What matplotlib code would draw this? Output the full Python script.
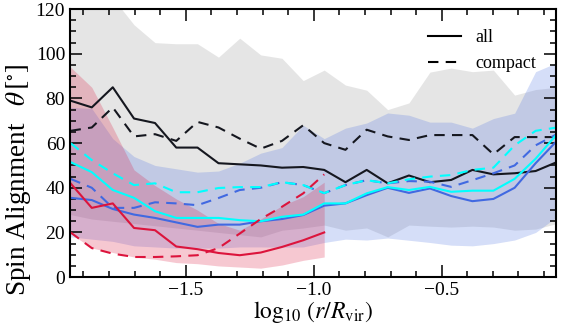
import matplotlib
matplotlib.use("Agg")
import matplotlib.pyplot as plt
from matplotlib.ticker import MultipleLocator
from matplotlib.lines import Line2D

plt.rcParams['font.family'] = 'serif'
plt.rcParams['font.serif'] = ['Liberation Serif', 'DejaVu Serif']
plt.rcParams['mathtext.fontset'] = 'stix'

# bin centres, log10(r/Rvir)
x = [-1.950, -1.867, -1.785, -1.702, -1.620, -1.537, -1.454, -1.372,
     -1.289, -1.207, -1.124, -1.041, -0.959, -0.876, -0.793, -0.711,
     -0.628, -0.546, -0.463, -0.380, -0.298, -0.215, -0.133, -0.050]

# "all" (dark) sample
black_all = [79, 76, 85, 71, 69, 58, 58, 51, 50.5, 50, 49, 49.3,
             48, 42.5, 48, 42, 45.5, 42.5, 43.5, 48, 46, 46.5, 47.5, 51.5]
black_compact = [65.5, 67, 76, 63, 64, 61, 69.5, 67, 62, 57.5, 61, 68,
                 60, 57, 66, 63, 61.4, 63.6, 63.6, 63.6, 55, 62.7, 62.7, 62.7]
gray_lo = [28, 26, 25, 24, 23, 22, 21, 20, 19, 18, 21, 22,
           23.3, 21, 22, 18, 23.3, 22.8, 22.4, 22.8, 22.4, 21, 21.5, 24]
gray_hi = [140, 130, 125, 113, 105, 104.5, 104.5, 98.5, 107, 99.5, 98, 88,
           92.7, 86, 83.7, 75, 78, 91.8, 93.6, 92, 92.7, 81.5, 84, 85]

# blue sample
blue_all = [35.5, 34.5, 30.5, 28, 26.5, 24.5, 22.5, 23.5, 23.5, 25, 26, 27.8,
            32, 33, 36.7, 40, 37.7, 39.7, 36.3, 34, 35, 40, 51, 61]
blue_compact = [44, 40, 31, 31, 33.5, 33, 32.2, 35.4, 39, 40, 42.5, 41.2,
                37.6, 41.2, 43.4, 42, 43, 42.7, 40.4, 43.4, 46.5, 50, 59, 64]
blue_lo = [18, 17, 16, 14, 13.5, 13, 13, 13, 13.5, 13.5, 13.4, 13.5,
           15.5, 17, 16.6, 17.5, 16.5, 15.5, 14.3, 14, 15, 16.6, 20, 27]
blue_hi = [76, 75.5, 62, 54, 50, 48.5, 47, 47.5, 51, 55.5, 58, 68,
           62, 66.7, 69, 73.5, 72.5, 69.4, 69.4, 66.7, 71, 73.4, 92, 96]

# cyan sample
cyan_all = [51.5, 47, 39, 35.5, 29.5, 26.5, 26.5, 26.5, 25.5, 25, 27, 28,
            33, 33, 37.5, 40.3, 39, 40.4, 38.2, 38.7, 38.7, 44, 53, 64]
cyan_compact = [60, 52.4, 46.5, 41.2, 42, 38, 38, 39.9, 40.3, 40.3, 42.5, 41.2,
                37.6, 41.2, 43.4, 42, 43.8, 45, 45.7, 48, 49, 59, 65.5, 67]

# red sample (inner radii only)
red_all = [42, 31, 33, 22, 21, 13.7, 12.5, 10.8, 9.8, 11, 13.5, 16.5, 20]
red_compact = [20, 13, 10.5, 9, 9, 9.3, 9.8, 13, 19.5, 26, 31.5, 37.5, 46]
red_lo = [19.5, 13, 11, 9, 8, 6.5, 6, 5, 4.5, 4, 5.4, 7.5, 9]
red_hi = [94, 85, 67, 48, 41, 35, 30, 24, 21, 26, 32, 36, 42.5]

legend_labels = ['all', 'compact']

fig = plt.figure(figsize=(5.86, 3.26), dpi=100)
ax = fig.add_axes([0.1195, 0.150, 0.8295, 0.822])

xr = x[:len(red_all)]
ax.fill_between(x, gray_lo, gray_hi, color='gray', alpha=0.2, lw=0)
ax.fill_between(x, blue_lo, blue_hi, color='royalblue', alpha=0.22, lw=0)
ax.fill_between(xr, red_lo, red_hi, color='crimson', alpha=0.23, lw=0)

lw = 1.5
dash = (5, 3.5)
ax.plot(x, black_all, color='#15171f', lw=lw)
ax.plot(x, black_compact, color='#15171f', lw=lw, dashes=dash)
ax.plot(x, blue_all, color='royalblue', lw=lw)
ax.plot(x, blue_compact, color='royalblue', lw=lw, dashes=dash)
ax.plot(x, cyan_all, color='cyan', lw=lw)
ax.plot(x, cyan_compact, color='cyan', lw=lw, dashes=dash)
ax.plot(xr, red_all, color='crimson', lw=lw)
ax.plot(xr, red_compact, color='crimson', lw=lw, dashes=dash)

ax.set_xlim(-1.952, -0.053)
ax.set_ylim(0, 120)
ax.xaxis.set_major_locator(MultipleLocator(0.5))
ax.xaxis.set_minor_locator(MultipleLocator(0.1))
ax.yaxis.set_major_locator(MultipleLocator(20))
ax.yaxis.set_minor_locator(MultipleLocator(5))
ax.tick_params(which='both', direction='in', top=True, right=True,
               labelsize=14, width=1.1)
ax.tick_params(which='major', length=8.5)
ax.tick_params(which='minor', length=4.5)
for s in ax.spines.values():
    s.set_linewidth(1.5)

ax.set_xlabel(r'$\log_{10}\,(r/R_{\rm vir})$', fontsize=17)
ax.xaxis.set_label_coords(0.5, -0.082)
ax.set_ylabel(r'Spin Alignment $\;\;\theta\,[^{\circ}]$', fontsize=19.5)
ax.yaxis.set_label_coords(-0.076, 0.365)

handles = [Line2D([], [], color='k', lw=lw),
           Line2D([], [], color='k', lw=lw, dashes=dash)]
ax.legend(handles, legend_labels, loc='upper right', frameon=False,
          fontsize=13, handlelength=1.8, labelspacing=0.5,
          borderaxespad=0.7, handletextpad=0.8)

fig.savefig('out.png', dpi=100)
